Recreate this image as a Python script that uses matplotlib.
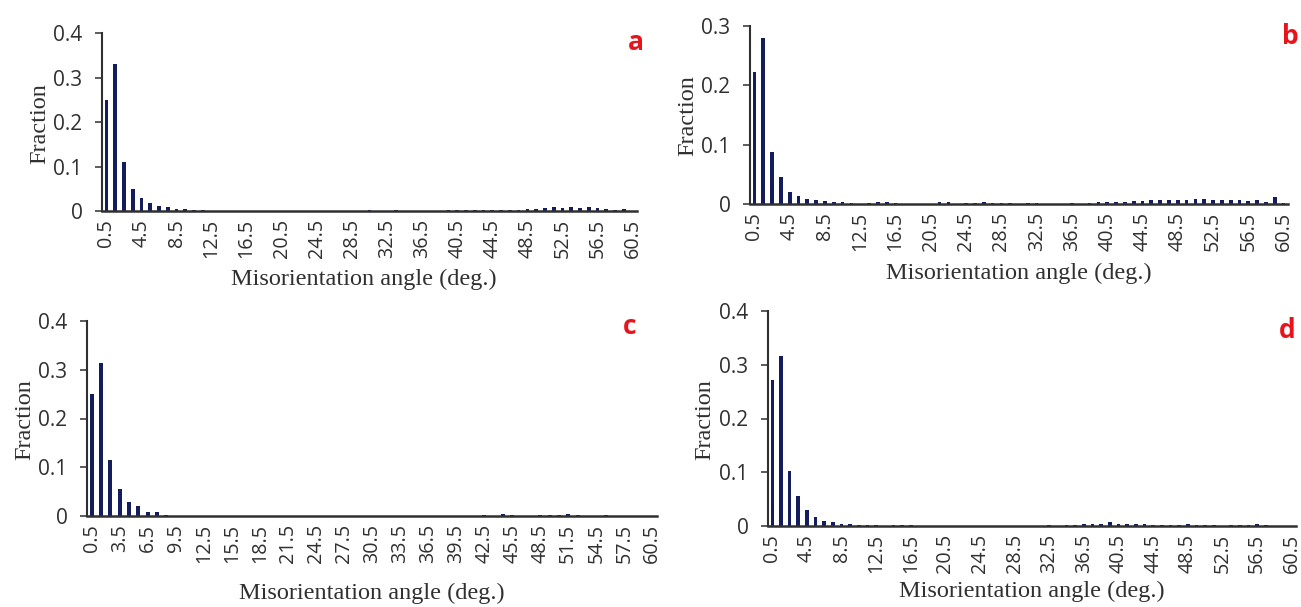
import numpy as np
import matplotlib
matplotlib.use('Agg')
import matplotlib.pyplot as plt

# Misorientation angle bins (deg.), 1 deg. wide, centred on x.5
angles = [a + 0.5 for a in range(61)]

frac_a = [0.250, 0.330, 0.110, 0.050, 0.030, 0.017, 0.012, 0.008, 0.005, 0.004,
          0.003, 0.002, 0, 0, 0, 0, 0, 0, 0, 0,
          0, 0, 0, 0, 0, 0, 0, 0, 0, 0,
          0.002, 0, 0, 0.002, 0, 0, 0, 0, 0, 0.002,
          0.002, 0.002, 0.002, 0.003, 0.002, 0.003, 0.003, 0.003, 0.004, 0.005,
          0.007, 0.008, 0.007, 0.008, 0.007, 0.008, 0.006, 0.004, 0.003, 0.004, 0]

frac_b = [0.222, 0.279, 0.087, 0.046, 0.020, 0.014, 0.009, 0.007, 0.005, 0.003,
          0.003, 0.002, 0, 0.002, 0.003, 0.003, 0.002, 0, 0, 0,
          0, 0.004, 0.003, 0, 0.002, 0.002, 0.003, 0.002, 0.002, 0.002,
          0, 0.002, 0.002, 0, 0, 0, 0.002, 0, 0.002, 0.003,
          0.004, 0.004, 0.004, 0.005, 0.005, 0.006, 0.006, 0.006, 0.006, 0.007,
          0.008, 0.008, 0.007, 0.006, 0.006, 0.006, 0.005, 0.006, 0.004, 0.012, 0.002]

frac_c = [0.250, 0.314, 0.114, 0.055, 0.028, 0.021, 0.008, 0.008, 0.003, 0,
          0, 0, 0, 0, 0, 0, 0, 0, 0, 0,
          0, 0, 0, 0, 0, 0, 0, 0, 0, 0,
          0, 0, 0, 0, 0, 0, 0, 0, 0, 0,
          0, 0, 0.002, 0, 0.004, 0.002, 0, 0, 0.002, 0.002,
          0.002, 0.004, 0.002, 0, 0, 0.002, 0, 0, 0, 0, 0]

frac_d = [0.272, 0.316, 0.102, 0.055, 0.029, 0.017, 0.009, 0.007, 0.004, 0.003,
          0.002, 0.002, 0.002, 0, 0.002, 0.002, 0.002, 0, 0, 0,
          0, 0, 0, 0, 0, 0, 0, 0, 0, 0,
          0, 0, 0.002, 0, 0.002, 0.002, 0.003, 0.003, 0.004, 0.007,
          0.004, 0.004, 0.003, 0.003, 0.002, 0.002, 0.002, 0.002, 0.003, 0.002,
          0.002, 0.002, 0, 0.002, 0.002, 0.002, 0.004, 0.002, 0, 0, 0]

W, H = 1301, 607
BAR = '#131d5e'
TXT = '#303030'

fig = plt.figure(figsize=(W / 100, H / 100), dpi=100)


def px_rect(left, right, top, bottom):
    return [left / W, 1 - bottom / H, (right - left) / W, (bottom - top) / H]


panels = [
    # values, letter, rect (px), y max, label step, xlabel pos, ylabel pos, letter pos
    (frac_a, 'a', px_rect(102, 637, 33, 211), 0.4, 4, (364, 279), (40, 124), (636, 42)),
    (frac_b, 'b', px_rect(750, 1288, 26, 204), 0.3, 4, (1019, 273), (688, 116), (1290, 36)),
    (frac_c, 'c', px_rect(87, 657, 321, 516), 0.4, 3, (372, 593), (25, 420), (630, 327)),
    (frac_d, 'd', px_rect(768, 1296, 311, 526), 0.4, 4, (1032, 591), (705, 420), (1287, 330)),
]

for vals, letter, rect, ymax, step, xl, yl, lp in panels:
    ax = fig.add_axes(rect)
    x = np.arange(len(angles))
    ax.bar(x, vals, width=0.42, color=BAR, edgecolor='none')
    ax.set_xlim(-0.5, len(angles) - 0.5)
    ax.set_ylim(0, ymax)
    ax.set_yticks(np.arange(0, ymax + 0.001, 0.1))
    ax.set_yticklabels(['0'] + ['%.1f' % v for v in np.arange(0.1, ymax + 0.001, 0.1)],
                       fontsize=15, color=TXT, family='Open Sans')
    ax.set_xticks(x[::step])
    ax.set_xticklabels(['%.1f' % angles[i] for i in x[::step]], rotation=90,
                       fontsize=14.2, color=TXT, family='Open Sans')
    ax.tick_params(axis='x', length=0, pad=6)
    ax.tick_params(axis='y', length=5, width=1.2, color='#404040', pad=9)
    for s in ['top', 'right']:
        ax.spines[s].set_visible(False)
    ax.spines['left'].set_linewidth(1.5)
    ax.spines['bottom'].set_linewidth(1.8)
    ax.spines['left'].set_color('#303030')
    ax.spines['bottom'].set_color('#303030')

    fig.text(xl[0] / W, 1 - xl[1] / H, 'Misorientation angle (deg.)', ha='center', va='center',
             fontsize=17.5, family='Liberation Serif', color=TXT)
    fig.text(yl[0] / W, 1 - yl[1] / H, 'Fraction', ha='center', va='center', rotation=90,
             fontsize=17.5, family='Liberation Serif', color=TXT)
    fig.text(lp[0] / W, 1 - lp[1] / H, letter, ha='center', va='center',
             fontsize=19, fontweight='bold', family='Open Sans', color='#e8141b')

fig.savefig('out.png', dpi=100)
